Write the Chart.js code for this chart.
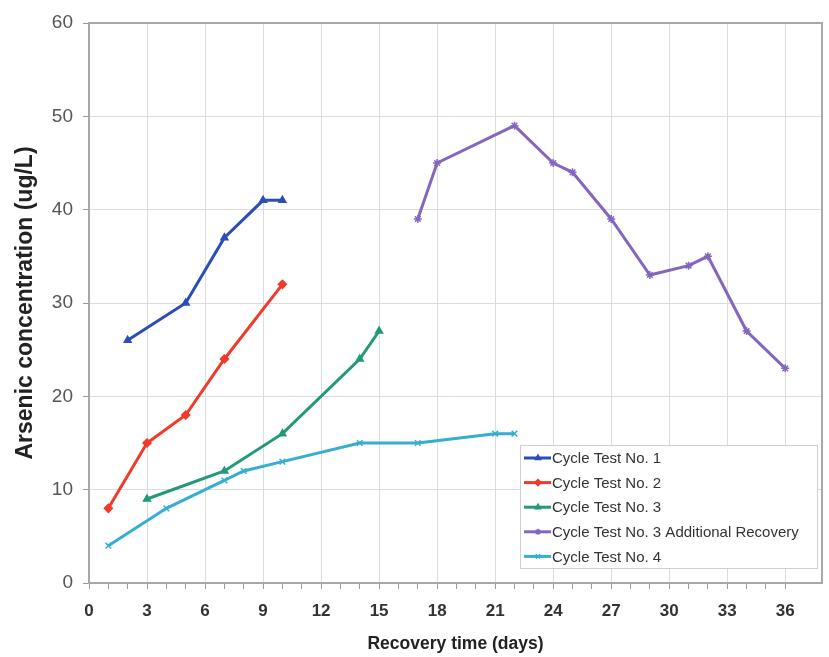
<!DOCTYPE html>
<html>
<head>
<meta charset="utf-8">
<script src="https://cdn.jsdelivr.net/npm/chart.js@4.4.1/dist/chart.umd.min.js"></script>
<style>
  html, body { margin: 0; padding: 0; background: #fff; }
  #wrap { width: 829px; height: 657px; }
</style>
</head>
<body>
<div id="wrap"><canvas id="arsenicChart" width="829" height="657"></canvas></div>
<script>
// Arsenic concentration vs recovery time

const seriesNames = [
  "Cycle Test No. 1",
  "Cycle Test No. 2",
  "Cycle Test No. 3",
  "Cycle Test No. 3 Additional Recovery",
  "Cycle Test No. 4",
];

const days1 = [2, 5, 7, 9, 10];
const conc1 = [26, 30, 37, 41, 41];

const days2 = [1, 3, 5, 7, 10];
const conc2 = [8, 15, 18, 24, 32];

const days3 = [3, 7, 10, 14, 15];
const conc3 = [9, 12, 16, 24, 27];

const days3b = [17, 18, 22, 24, 25, 27, 29, 31, 32, 34, 36];
const conc3b = [39, 45, 49, 45, 44, 39, 33, 34, 35, 27, 23];

const days4 = [1, 4, 7, 8, 10, 14, 17, 21, 22];
const conc4 = [4, 8, 11, 12, 13, 15, 15, 16, 16];

const colors = ["#2b4db5", "#f03a2a", "#22997a", "#8466bf", "#35aed0"];
const markers = ["triangle", "rectRot", "triangle", "star", "crossRot"];

const toPoints = (xs, ys) => xs.map((x, i) => ({ x: x, y: ys[i] }));
const allDays = [days1, days2, days3, days3b, days4];
const allConc = [conc1, conc2, conc3, conc3b, conc4];

const FONT = "'Liberation Sans', Arial, sans-serif";

// frame round the plot + legend box inside the chart area
const framePlugin = {
  id: "frame",
  afterDatasetsDraw(chart) {
    const ctx = chart.ctx;
    const a = chart.chartArea;
    ctx.save();
    ctx.strokeStyle = "#a8a8a8";
    ctx.lineWidth = 2;
    ctx.strokeRect(a.left, a.top, a.right - a.left, a.bottom - a.top);

    // legend
    const lx = 520, ly = 445, lw = 297, lh = 123;
    ctx.fillStyle = "#fff";
    ctx.fillRect(lx, ly, lw, lh);
    ctx.strokeStyle = "#cfcfcf";
    ctx.lineWidth = 1;
    ctx.strokeRect(lx + 0.5, ly + 0.5, lw, lh);
    ctx.font = "15px " + FONT;
    ctx.textBaseline = "middle";
    chart.data.datasets.forEach((ds, i) => {
      const y = ly + 13 + i * 24.6;
      ctx.strokeStyle = ds.borderColor;
      ctx.fillStyle = ds.borderColor;
      ctx.lineWidth = 3;
      ctx.beginPath();
      ctx.moveTo(lx + 4, y);
      ctx.lineTo(lx + 31, y);
      ctx.stroke();
      ctx.lineWidth = 1.5;
      Chart.helpers.drawPoint(ctx, {
        pointStyle: ds.pointStyle, radius: 3, borderWidth: 1.5, rotation: 0,
      }, lx + 18, y);
      ctx.fillStyle = "#333";
      ctx.fillText(ds.label, lx + 32, y + 1);
    });
    ctx.restore();
  },
};

const datasets = seriesNames.map((name, i) => ({
  label: name,
  data: toPoints(allDays[i], allConc[i]),
  borderColor: colors[i],
  backgroundColor: colors[i],
  pointStyle: markers[i],
  pointRadius: 4,
  pointBorderWidth: 1.5,
  borderWidth: 3,
  fill: false,
  tension: 0,
}));

const arsenicChart = document.getElementById("arsenicChart").getContext("2d");

new Chart(arsenicChart, {
  type: "line",
  data: { datasets: datasets },
  options: {
    responsive: false,
    animation: false,
    layout: { padding: { top: 23, right: 7, left: 0, bottom: 0 } },
    scales: {
      x: {
        type: "linear",
        min: 0,
        max: 37.9,
        border: { display: false },
        afterFit: (scale) => {
          scale.height = 74;
          scale.paddingLeft = 0;
          scale.paddingRight = 0;
        },
        ticks: {
          stepSize: 1,
          autoSkip: false,
          maxRotation: 0,
          padding: 12,
          color: "#333",
          font: { family: FONT, size: 17, weight: "bold" },
          callback: (v) => (Number.isInteger(v) && v % 3 === 0 ? v : ""),
        },
        grid: {
          color: (c) => (c.tick && c.tick.value % 3 === 0 ? "#dcdcdc" : "rgba(0,0,0,0)"),
          tickColor: (c) => (c.tick && Number.isInteger(c.tick.value) ? "#9a9a9a" : "rgba(0,0,0,0)"),
          tickLength: 6,
          lineWidth: 1,
        },
        title: {
          display: true,
          text: "Recovery time (days)",
          color: "#222",
          padding: { top: 4, bottom: 2 },
          font: { family: FONT, size: 17.5, weight: "bold" },
        },
      },
      y: {
        min: 0,
        max: 60,
        border: { display: false },
        afterFit: (scale) => {
          scale.width = 89;
          scale.paddingTop = 0;
          scale.paddingBottom = 0;
        },
        ticks: {
          stepSize: 10,
          padding: 10,
          color: "#555",
          font: { family: FONT, size: 19 },
        },
        grid: {
          color: "#dcdcdc",
          tickColor: "#9a9a9a",
          tickLength: 6,
        },
        title: {
          display: true,
          text: "Arsenic concentration (ug/L)",
          color: "#222",
          padding: { top: 12, bottom: 12 },
          font: { family: FONT, size: 23, weight: "bold" },
        },
      },
    },
    plugins: {
      legend: { display: false },
      tooltip: { enabled: false },
    },
  },
  plugins: [framePlugin],
});
</script>
</body>
</html>
